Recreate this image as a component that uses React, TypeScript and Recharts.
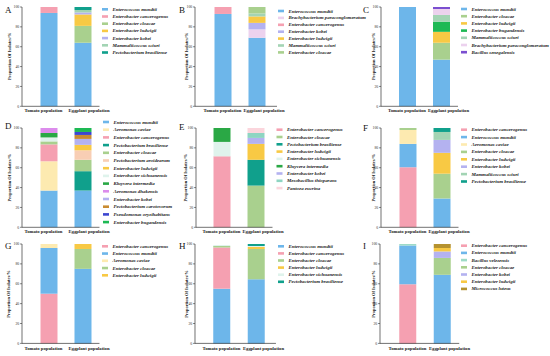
import React from 'react';
import { BarChart, Bar, XAxis, YAxis } from 'recharts';

const categories = ['Tomato population', 'Eggplant population'];
const yTicks = [0, 20, 40, 60, 80, 100];

const speciesA = ['Enterococcus mundtii', 'Enterobacter cancerogenus', 'Enterobacter cloacae', 'Enterobacter ludwigii', 'Enterobacter kobei', 'Mammaliicoccus sciuri', 'Pectobacterium brasiliense'];
const tomatoA = [94, 6, 0, 0, 0, 0, 0];
const eggplantA = [64, 0, 17, 11.5, 2, 2.5, 3];

const speciesB = ['Enterococcus mundtii', 'Brachybacterium paraconglomeratum', 'Enterobacter cancerogenus', 'Enterobacter kobei', 'Enterobacter ludwigii', 'Mammaliicoccus sciuri', 'Enterobacter cloacae'];
const tomatoB = [93, 0, 7, 0, 0, 0, 0];
const eggplantB = [69, 8.5, 0, 6.5, 6.5, 3, 6.5];

const speciesC = ['Enterococcus mundtii', 'Enterobacter cloacae', 'Enterobacter ludwigii', 'Enterobacter bugandensis', 'Mammaliicoccus sciuri', 'Brachybacterium paraconglomeratum', 'Bacillus senegalensis'];
const tomatoC = [100, 0, 0, 0, 0, 0, 0];
const eggplantC = [47, 17, 11, 10, 7, 6, 2];

const speciesD = ['Enterococcus mundtii', 'Aeromonas caviae', 'Enterobacter cancerogenus', 'Pectobacterium brasiliense', 'Enterobacter cloacae', 'Pectobacterium aroidearum', 'Enterobacter ludwigii', 'Enterobacter sichuanensis', 'Kluyvera intermedia', 'Aeromonas dhakensis', 'Enterobacter kobei', 'Pectobacterium carotovorum', 'Pseudomonas oryzihabitans', 'Enterobacter bugandensis'];
const tomatoD = [37, 29.5, 17, 0, 3, 0, 0, 4, 4.5, 5, 0, 0, 0, 0];
const eggplantD = [37, 0, 0, 19.5, 11.5, 9.5, 5.5, 0, 0, 0, 6, 4, 3, 4];

const speciesE = ['Enterobacter cancerogenus', 'Enterobacter cloacae', 'Pectobacterium brasiliense', 'Enterobacter ludwigii', 'Enterobacter sichuanensis', 'Kluyvera intermedia', 'Enterobacter kobei', 'Mesobacillus thioparans', 'Pantoea eucrina'];
const tomatoE = [71.5, 0, 0, 0, 14.5, 14, 0, 0, 0];
const eggplantE = [0, 42, 26, 16, 0, 0, 6, 5, 5];

const speciesF = ['Enterobacter cancerogenus', 'Enterococcus mundtii', 'Aeromonas caviae', 'Enterobacter cloacae', 'Enterobacter ludwigii', 'Enterobacter kobei', 'Mammaliicoccus sciuri', 'Pectobacterium brasiliense'];
const tomatoF = [60.5, 23.5, 14, 2, 0, 0, 0, 0];
const eggplantF = [0, 29, 0, 25, 21, 13, 8, 4];

const speciesG = ['Enterobacter cancerogenus', 'Enterococcus mundtii', 'Aeromonas caviae', 'Enterobacter cloacae', 'Enterobacter ludwigii'];
const tomatoG = [50, 46, 4, 0, 0];
const eggplantG = [0, 75, 0, 20, 5];

const speciesH = ['Enterococcus mundtii', 'Enterobacter cancerogenus', 'Enterobacter cloacae', 'Enterobacter ludwigii', 'Enterobacter sichuanensis', 'Pectobacterium brasiliense'];
const tomatoH = [55, 41.5, 1.5, 0, 1, 0];
const eggplantH = [64.5, 0, 30.5, 2, 1, 2];

const speciesI = ['Enterobacter cancerogenus', 'Enterococcus mundtii', 'Bacillus velezensis', 'Enterobacter cloacae', 'Enterobacter kobei', 'Enterobacter ludwigii', 'Micrococcus luteus'];
const tomatoI = [59.5, 39, 1.5, 0, 0, 0, 0];
const eggplantI = [0, 69, 0, 17, 6.5, 3.5, 4];

const colors: Record<string, string> = {
  'Enterococcus mundtii': '#6db6ea',
  'Enterobacter cancerogenus': '#f5a0b1',
  'Enterobacter cloacae': '#a9d08e',
  'Enterobacter ludwigii': '#f8c944',
  'Enterobacter kobei': '#b4b2f0',
  'Mammaliicoccus sciuri': '#a3d4b4',
  'Pectobacterium brasiliense': '#10a08c',
  'Brachybacterium paraconglomeratum': '#ecd2ee',
  'Enterobacter bugandensis': '#1db954',
  'Bacillus senegalensis': '#7b4fd0',
  'Aeromonas caviae': '#fdeab0',
  'Pectobacterium aroidearum': '#f8ceb4',
  'Enterobacter sichuanensis': '#dff3ec',
  'Kluyvera intermedia': '#2aa845',
  'Aeromonas dhakensis': '#dc8cec',
  'Pectobacterium carotovorum': '#c98b32',
  'Pseudomonas oryzihabitans': '#3c46d0',
  'Mesobacillus thioparans': '#8ed5c2',
  'Pantoea eucrina': '#fbd5dc',
  'Bacillus velezensis': '#9edbc7',
  'Micrococcus luteus': '#b5922f',
};

const serif = "'Liberation Serif', 'Times New Roman', serif";

const panels = [
  { letter: 'A', species: speciesA, tomato: tomatoA, eggplant: eggplantA, colX: 0, axisX: 22, c1: 48.5, band: 34, pr: 0, top: 6.7, bottom: 106, lx: 102, ly: 9.3, gap: 7.2, labX: 10, letX: 5, letY: 13, shift: [-5, 6.5] },
  { letter: 'B', species: speciesB, tomato: tomatoB, eggplant: eggplantB, colX: 183, axisX: 195, c1: 222.5, band: 34, pr: 3.5, top: 6.7, bottom: 106, lx: 278, ly: 11, gap: 6.9, labX: 186.5, letX: 179, letY: 13, shift: [0, 7.5] },
  { letter: 'C', species: speciesC, tomato: tomatoC, eggplant: eggplantC, colX: 366, axisX: 381, c1: 407, band: 34, pr: 0, top: 6.7, bottom: 106, lx: 461, ly: 9, gap: 7.2, labX: 373.5, letX: 363, letY: 13, shift: [0, 7.5] },
  { letter: 'D', species: speciesD, tomato: tomatoD, eggplant: eggplantD, colX: 0, axisX: 22, c1: 48.5, band: 34, pr: 0, top: 128, bottom: 227.3, lx: 103, ly: 122, gap: 7.7, labX: 10, letX: 5, letY: 129, shift: [-5, 6.5] },
  { letter: 'E', species: speciesE, tomato: tomatoE, eggplant: eggplantE, colX: 183, axisX: 196, c1: 221.5, band: 34, pr: 0, top: 128, bottom: 227.3, lx: 276.5, ly: 129.7, gap: 7.3, labX: 186, letX: 179, letY: 130, shift: [0, 7.5] },
  { letter: 'F', species: speciesF, tomato: tomatoF, eggplant: eggplantF, colX: 366, axisX: 381, c1: 407.5, band: 34, pr: 0, top: 128, bottom: 227.3, lx: 461, ly: 129.7, gap: 7.4, labX: 373.5, letX: 363, letY: 131, shift: [0, 7.5] },
  { letter: 'G', species: speciesG, tomato: tomatoG, eggplant: eggplantG, colX: 0, axisX: 22, c1: 48.5, band: 34, pr: 0, top: 244.3, bottom: 343.7, lx: 102, ly: 246.3, gap: 7.25, labX: 8.5, letX: 5, letY: 249, shift: [-5, 6.5] },
  { letter: 'H', species: speciesH, tomato: tomatoH, eggplant: eggplantH, colX: 183, axisX: 195, c1: 221.5, band: 34.5, pr: 2.7, top: 244.3, bottom: 343.7, lx: 278, ly: 246.3, gap: 7.1, labX: 186, letX: 179, letY: 249, shift: [0, 7.5] },
  { letter: 'I', species: speciesI, tomato: tomatoI, eggplant: eggplantI, colX: 366, axisX: 380, c1: 407.5, band: 34.5, pr: 0, top: 244.3, bottom: 343.7, lx: 461, ly: 245.7, gap: 7.2, labX: 373, letX: 363, letY: 249, shift: [0, 7.5] },
];

type Panel = (typeof panels)[number];

// extra room on the right so the shifted category labels are not clipped
const spare = 18;

function PanelChart({ p }: { p: Panel }) {
  const pl = p.c1 - p.axisX - p.band / 2;
  const yw = p.axisX - p.colX;
  const width = yw + pl + 2 * p.band + p.pr + spare;
  const plotH = p.bottom - p.top;
  const data = categories.map((name, ci) => {
    const row: Record<string, number | string> = { name };
    p.species.forEach((s, i) => {
      row[s] = (ci === 0 ? p.tomato : p.eggplant)[i];
    });
    return row;
  });

  const XTick = (props: any) => {
    const { x, y, payload, index } = props;
    return (
      <text x={x + p.shift[index]} y={y + 6.2} textAnchor="middle" fontSize={4.7} fontWeight="bold" fontFamily={serif} fill="#1a1a1a">
        {payload.value}
      </text>
    );
  };

  return (
    <div style={{ position: 'absolute', left: p.colX, top: p.top - 6 }}>
      <BarChart width={width} height={plotH + 18} data={data} margin={{ top: 6, right: spare, left: 0, bottom: 0 }} barSize={17}>
        <XAxis
          dataKey="name"
          height={12}
          interval={0}
          padding={{ left: pl, right: p.pr }}
          tickLine={false}
          tickSize={0}
          tickMargin={0}
          tick={<XTick />}
          axisLine={{ stroke: '#111', strokeWidth: 0.6 }}
        />
        <YAxis
          width={yw}
          domain={[0, 100]}
          ticks={yTicks}
          interval={0}
          tickSize={2}
          tickMargin={0.8}
          axisLine={{ stroke: '#111', strokeWidth: 0.6 }}
          tickLine={{ stroke: '#111', strokeWidth: 0.5 }}
          tick={{ fontSize: 3.8, fill: '#333', fontFamily: serif }}
        />
        {p.species.map((s) => (
          <Bar key={s} dataKey={s} stackId="s" fill={colors[s]} isAnimationActive={false} />
        ))}
      </BarChart>
    </div>
  );
}

function Overlay({ p }: { p: Panel }) {
  const midY = (p.top + p.bottom) / 2;
  return (
    <g>
      <text x={p.letX} y={p.letY} fontSize={9} fontFamily={serif} fill="#111">{p.letter}</text>
      <text
        x={p.labX}
        y={midY}
        transform={`rotate(-90 ${p.labX} ${midY})`}
        textAnchor="middle"
        dominantBaseline="central"
        fontSize={4.4}
        fontWeight="bold"
        fontFamily={serif}
        fill="#1a1a1a"
      >
        Proportion Of Isolates/%
      </text>
      {p.species.map((s, i) => {
        const cy = p.ly + i * p.gap;
        return (
          <g key={s}>
            <rect x={p.lx} y={cy - 1.3} width={6} height={2.6} fill={colors[s]} />
            <text x={p.lx + 10.5} y={cy} dominantBaseline="central" fontSize={4.9} fontStyle="italic" fontWeight="bold" fontFamily={serif} fill="#1a1a1a">
              {s}
            </text>
          </g>
        );
      })}
    </g>
  );
}

export default function App() {
  return (
    <div style={{ position: 'absolute', left: 0, top: 0, width: 550, height: 356, background: '#fff', overflow: 'hidden' }}>
      {panels.map((p) => (
        <PanelChart key={p.letter} p={p} />
      ))}
      <svg width={550} height={356} style={{ position: 'absolute', left: 0, top: 0, pointerEvents: 'none' }}>
        {panels.map((p) => (
          <Overlay key={p.letter} p={p} />
        ))}
      </svg>
    </div>
  );
}
